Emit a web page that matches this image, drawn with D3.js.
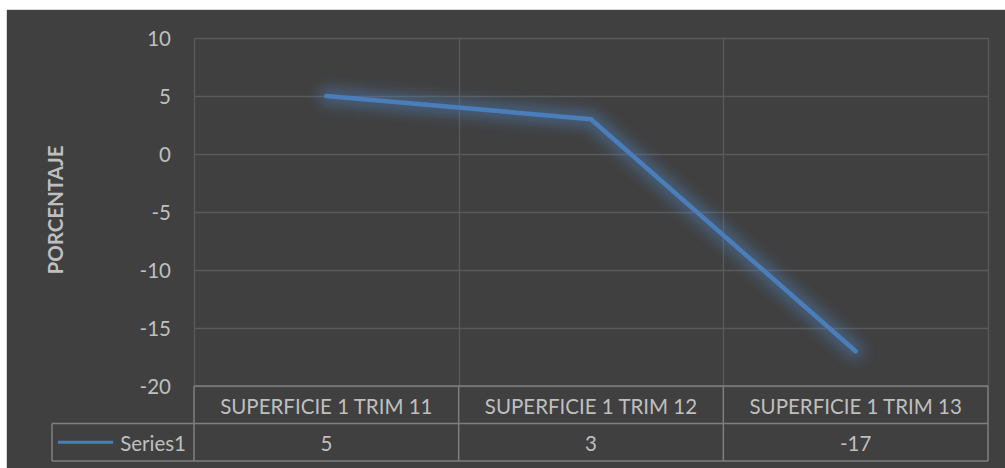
<!DOCTYPE html>
<html>
<head>
<meta charset="utf-8">
<script src="https://cdn.jsdelivr.net/npm/d3@7"></script>
<style>
  html, body { margin: 0; padding: 0; background: #fff; }
  svg { display: block; }
</style>
</head>
<body>
<div id="chart"></div>
<script>
// chart data
const categories = ["SUPERFICIE 1 TRIM 11", "SUPERFICIE 1 TRIM 12", "SUPERFICIE 1 TRIM 13"];
const seriesName = "Series1";
const seriesValues = [5, 3, -17];
const yTicks = [10, 5, 0, -5, -10, -15, -20];
const yTitle = "PORCENTAJE";

const W = 1005, H = 468;
const plot = {left: 194, right: 988, top: 38, bottom: 386};
const rowH = 37.5;
const legendLeft = 52;
const fontFam = "Lato, 'Open Sans', sans-serif";
const textColor = "#bfbfbf";
const labelSize = "20.5px";

const svg = d3.select("#chart").append("svg").attr("width", W).attr("height", H);

// background panel
svg.append("rect").attr("x", 7).attr("y", 10).attr("width", W - 7).attr("height", H - 10)
  .attr("fill", "#404040");
svg.append("line").attr("x1", 6.5).attr("x2", 6.5).attr("y1", 10).attr("y2", H)
  .attr("stroke", "#d9d9d9");
svg.append("line").attr("x1", 6.5).attr("x2", W).attr("y1", 9.5).attr("y2", 9.5)
  .attr("stroke", "#d9d9d9");

const defs = svg.append("defs");
const glow = defs.append("filter").attr("id", "glow")
  .attr("x", "-20%").attr("y", "-20%").attr("width", "140%").attr("height", "140%");
glow.append("feGaussianBlur").attr("stdDeviation", 7);

const x = d3.scaleBand().domain(categories).range([plot.left, plot.right]);
const y = d3.scaleLinear().domain([d3.min(yTicks), d3.max(yTicks)]).range([plot.bottom, plot.top]);

// gridlines
const gridColor = "#5a5a5a";
svg.append("g").selectAll("line").data(yTicks).join("line")
  .attr("x1", plot.left).attr("x2", plot.right)
  .attr("y1", d => Math.round(y(d)) + 0.5).attr("y2", d => Math.round(y(d)) + 0.5)
  .attr("stroke", gridColor).attr("stroke-width", 1.3);
const bounds = categories.map(c => x(c)).concat([plot.right]);
svg.append("g").selectAll("line").data(bounds).join("line")
  .attr("x1", d => Math.round(d) + 0.5).attr("x2", d => Math.round(d) + 0.5)
  .attr("y1", plot.top).attr("y2", plot.bottom)
  .attr("stroke", gridColor).attr("stroke-width", 1.3);

// y tick labels
svg.append("g").selectAll("text").data(yTicks).join("text")
  .attr("x", 171).attr("y", d => y(d))
  .attr("text-anchor", "end").attr("dominant-baseline", "central")
  .style("font-family", fontFam).style("font-size", labelSize).attr("fill", textColor)
  .text(d => d);

// y axis title
svg.append("text")
  .attr("transform", "translate(" + 55 + "," + 210 + ") rotate(-90)")
  .attr("text-anchor", "middle").attr("dominant-baseline", "central")
  .style("font-family", fontFam).style("font-size", "20.5px").style("font-weight", "bold")
  .attr("fill", textColor).text(yTitle);

// series line with glow
const pts = categories.map((c, i) => [x(c) + x.bandwidth() / 2, y(seriesValues[i])]);
const line = d3.line();
svg.append("path").attr("d", line(pts)).attr("fill", "none")
  .attr("stroke", "#4f81bd").attr("stroke-opacity", 0.5).attr("stroke-width", 16)
  .attr("stroke-linejoin", "round").attr("stroke-linecap", "round")
  .attr("filter", "url(#glow)");
svg.append("path").attr("d", line(pts)).attr("fill", "none")
  .attr("stroke", "#4a7ebb").attr("stroke-width", 4.5)
  .attr("stroke-linejoin", "round").attr("stroke-linecap", "round");

// data table
const tableColor = "#7f7f7f";
const t = svg.append("g");
const r0 = plot.bottom, r1 = plot.bottom + rowH, r2 = plot.bottom + 2 * rowH;
t.append("line").attr("x1", plot.left).attr("x2", plot.right).attr("y1", r0).attr("y2", r0);
t.append("line").attr("x1", legendLeft).attr("x2", plot.right).attr("y1", r1).attr("y2", r1);
t.append("line").attr("x1", legendLeft).attr("x2", plot.right).attr("y1", r2).attr("y2", r2);
t.append("line").attr("x1", legendLeft).attr("x2", legendLeft).attr("y1", r1).attr("y2", r2);
t.selectAll("line.v").data(bounds).join("line").attr("class", "v")
  .attr("x1", d => d).attr("x2", d => d).attr("y1", r0).attr("y2", r2);
t.selectAll("line").attr("stroke", tableColor).attr("stroke-width", 1.5);

t.selectAll("text.cat").data(categories).join("text").attr("class", "cat")
  .attr("x", d => x(d) + x.bandwidth() / 2).attr("y", (r0 + r1) / 2 + 1)
  .attr("text-anchor", "middle").attr("dominant-baseline", "central")
  .style("font-family", fontFam).style("font-size", labelSize).attr("fill", textColor)
  .text(d => d);
t.selectAll("text.val").data(seriesValues).join("text").attr("class", "val")
  .attr("x", (d, i) => x(categories[i]) + x.bandwidth() / 2).attr("y", (r1 + r2) / 2 + 1)
  .attr("text-anchor", "middle").attr("dominant-baseline", "central")
  .style("font-family", fontFam).style("font-size", labelSize).attr("fill", textColor)
  .text(d => d);

// legend key
t.append("line").attr("x1", 58).attr("x2", 113).attr("y1", (r1 + r2) / 2).attr("y2", (r1 + r2) / 2)
  .attr("stroke", "#4a7ebb").attr("stroke-width", 3);
t.append("text").attr("x", 186).attr("y", (r1 + r2) / 2 + 1)
  .attr("text-anchor", "end").attr("dominant-baseline", "central")
  .style("font-family", fontFam).style("font-size", labelSize).attr("fill", textColor)
  .text(seriesName);
</script>
</body>
</html>
